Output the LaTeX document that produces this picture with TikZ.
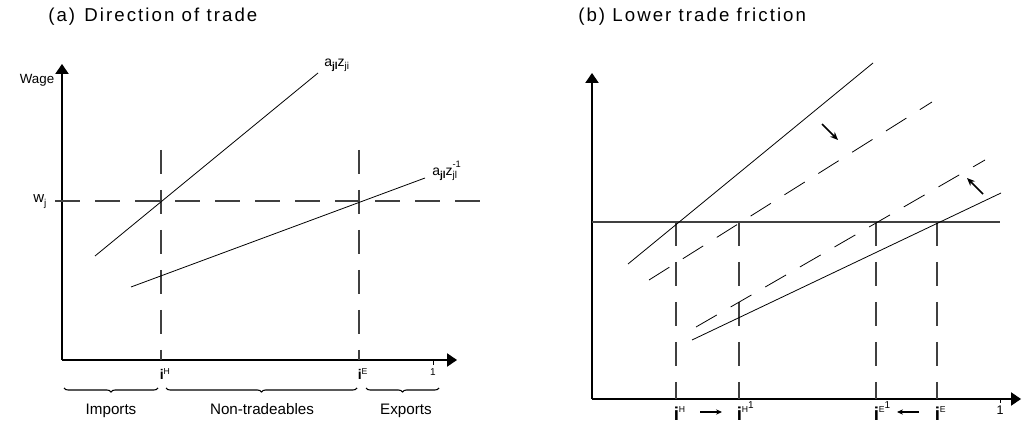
\documentclass[tikz,border=0pt]{standalone}
\usepackage{fontspec}
\setmainfont{Liberation Sans}
\newfontfamily\titlefont[LetterSpace=11]{Liberation Sans}
\usetikzlibrary{arrows.meta,decorations.pathreplacing}
\newcommand{\fs}[1]{\fontsize{#1}{#1}\selectfont}
\newcommand{\lowsub}[2]{\raisebox{-#1}{\fs{7.5}#2}}
\begin{document}
\begin{tikzpicture}[x=0.75pt,y=-0.75pt,
  axis/.style={line width=0.9pt, black, -{Triangle[length=7.5pt,width=10pt]}},
  curve/.style={line width=0.6pt, black},
  dcurve/.style={line width=0.6pt, black, dash pattern=on 18pt off 12pt},
  vdash/.style={line width=0.8pt, black!75, dash pattern=on 18pt off 12pt},
  hdash/.style={line width=0.8pt, black!75, dash pattern=on 18.75pt off 11.25pt},
  hsolid/.style={line width=0.8pt, black!75},
  tick/.style={line width=0.6pt, black},
  ttl/.style={inner sep=0pt, anchor=base west, font=\titlefont\fs{14}},
  blbl/.style={inner sep=0pt, anchor=base, font=\fs{11.4}},
  clbl/.style={inner sep=0pt, anchor=base west, font=\fs{10.5}},
  ilbl/.style={inner sep=0pt, anchor=base west},
  brc/.style={decorate, decoration={brace, mirror, amplitude=3pt}, line width=0.8pt},
  sarr/.style={line width=1.2pt, -{Stealth[length=6pt,width=5pt]}},
  tarr/.style={line width=0.9pt, -{Stealth[length=4.5pt,width=4pt]}}]
\useasboundingbox (0,0) rectangle (1023,423);

% ---------------- panel (a) ----------------
\node[ttl] (ta) at (48,22) {(a)\ \hspace{1.5pt}Direction of trade};

\coordinate (oa) at (62,360);
\coordinate (yat) at (62,64);
\coordinate (xat) at (457,360);
\draw[axis] (oa) -- (yat);
\draw[axis] (oa) -- (xat);

\node[inner sep=0pt, anchor=base, font=\fs{10}] (wage) at (37,84) {Wage};
\node[inner sep=0pt, anchor=base west, font=\fs{11.25}] (wj) at (33,203) {w\lowsub{2.5pt}{j}};

\coordinate (wl) at (55,201);
\coordinate (wr) at (480,201);
\draw[hdash] (wl) -- (wr);

\coordinate (vHt) at (161,150);
\coordinate (vHb) at (161,360);
\coordinate (vEt) at (359,150);
\coordinate (vEb) at (359,360);
\draw[vdash] (vHt) -- (vHb);
\draw[vdash] (vEt) -- (vEb);

\coordinate (A1) at (95,256);
\coordinate (A2) at (318,73);
\coordinate (B1) at (131,287);
\coordinate (B2) at (425,178);
\draw[curve] (A1) -- (A2);
\draw[curve] (B1) -- (B2);

\node[clbl] (la) at (324,67) {a\lowsub{2pt}{\bfseries jl}z\lowsub{2pt}{ji}};
\node[clbl] (lb) at (432,176) {a\lowsub{2pt}{\bfseries jl}z\rlap{\lowsub{2pt}{jl}}\raisebox{6pt}{\fs{7}-1}};

\node[ilbl] (iHa) at (159.5,379) {\fs{10.5}\bfseries i\raisebox{3.75pt}{\fs{6.5}\mdseries H}};
\node[ilbl] (iEa) at (357.5,379) {\fs{10.5}\bfseries i\raisebox{3.75pt}{\fs{6.5}\mdseries E}};
\coordinate (t1a) at (433,360);
\coordinate (t1b) at (433,365);
\draw[tick] (t1a) -- (t1b);
\node[inner sep=0pt, anchor=base, font=\fs{7.5}] (onea) at (433,375.5) {1};

\coordinate (b1l) at (64,388);  \coordinate (b1r) at (158,388);
\coordinate (b2l) at (166,388); \coordinate (b2r) at (357,388);
\coordinate (b3l) at (366,388); \coordinate (b3r) at (439,388);
\draw[brc] (b1l) -- (b1r);
\draw[brc] (b2l) -- (b2r);
\draw[brc] (b3l) -- (b3r);
\node[blbl] (imp) at (111,414) {Imports};
\node[blbl] (nt) at (262,414) {Non-tradeables};
\node[blbl] (exp) at (406,414) {Exports};

% ---------------- panel (b) ----------------
\node[ttl] (tb) at (578,22) {(b) Lower trade friction};

\coordinate (ob) at (592,399);
\coordinate (ybt) at (592,73);
\coordinate (xbt) at (1021,399);
\draw[axis] (ob) -- (ybt);
\draw[axis] (ob) -- (xbt);

\coordinate (hl) at (592,222);
\coordinate (hr) at (1000,222);
\draw[hsolid] (hl) -- (hr);

\foreach \n/\x in {H/676, H1/739, E1/876, E/937}{
  \coordinate (v\n t) at (\x,222);
  \coordinate (v\n b) at (\x,399);
  \draw[vdash] (v\n t) -- (v\n b);
}

\coordinate (U1) at (628,264);  \coordinate (U2) at (873,63);
\coordinate (UD1) at (649,280); \coordinate (UD2) at (932,102);
\coordinate (LD1) at (696,327); \coordinate (LD2) at (985,160);
\coordinate (L1) at (692,340);  \coordinate (L2) at (1001,193);
\draw[curve] (U1) -- (U2);
\draw[dcurve] (UD1) -- (UD2);
\draw[dcurve] (LD1) -- (LD2);
\draw[curve] (L1) -- (L2);

\coordinate (s1a) at (822,124); \coordinate (s1b) at (838,140);
\coordinate (s2a) at (983,194); \coordinate (s2b) at (967,178);
\draw[sarr] (s1a) -- (s1b);
\draw[sarr] (s2a) -- (s2b);

\node[ilbl] (iHb) at (673.5,420) {\fs{14}\bfseries i\raisebox{5.5pt}{\fs{6.5}\mdseries H}};
\node[ilbl] (iH1b) at (736.5,420) {\fs{14}\bfseries i\raisebox{5.5pt}{\fs{6.5}\mdseries H}\raisebox{8.5pt}{\fs{7.5}\mdseries 1}};
\node[ilbl] (iE1b) at (873.5,420) {\fs{14}\bfseries i\raisebox{5.5pt}{\fs{6.5}\mdseries E}\raisebox{8.5pt}{\fs{7.5}\mdseries 1}};
\node[ilbl] (iEb) at (934.5,420) {\fs{14}\bfseries i\raisebox{5.5pt}{\fs{6.5}\mdseries E}};
\coordinate (t1c) at (1000,399);
\coordinate (t1d) at (1000,403);
\draw[tick] (t1c) -- (t1d);
\node[inner sep=0pt, anchor=base, font=\fs{9.4}] (oneb) at (1000,414) {1};

\coordinate (r1a) at (700,412); \coordinate (r1b) at (722,412);
\coordinate (r2a) at (919,412); \coordinate (r2b) at (897,412);
\draw[tarr] (r1a) -- (r1b);
\draw[tarr] (r2a) -- (r2b);
\end{tikzpicture}
\end{document}
